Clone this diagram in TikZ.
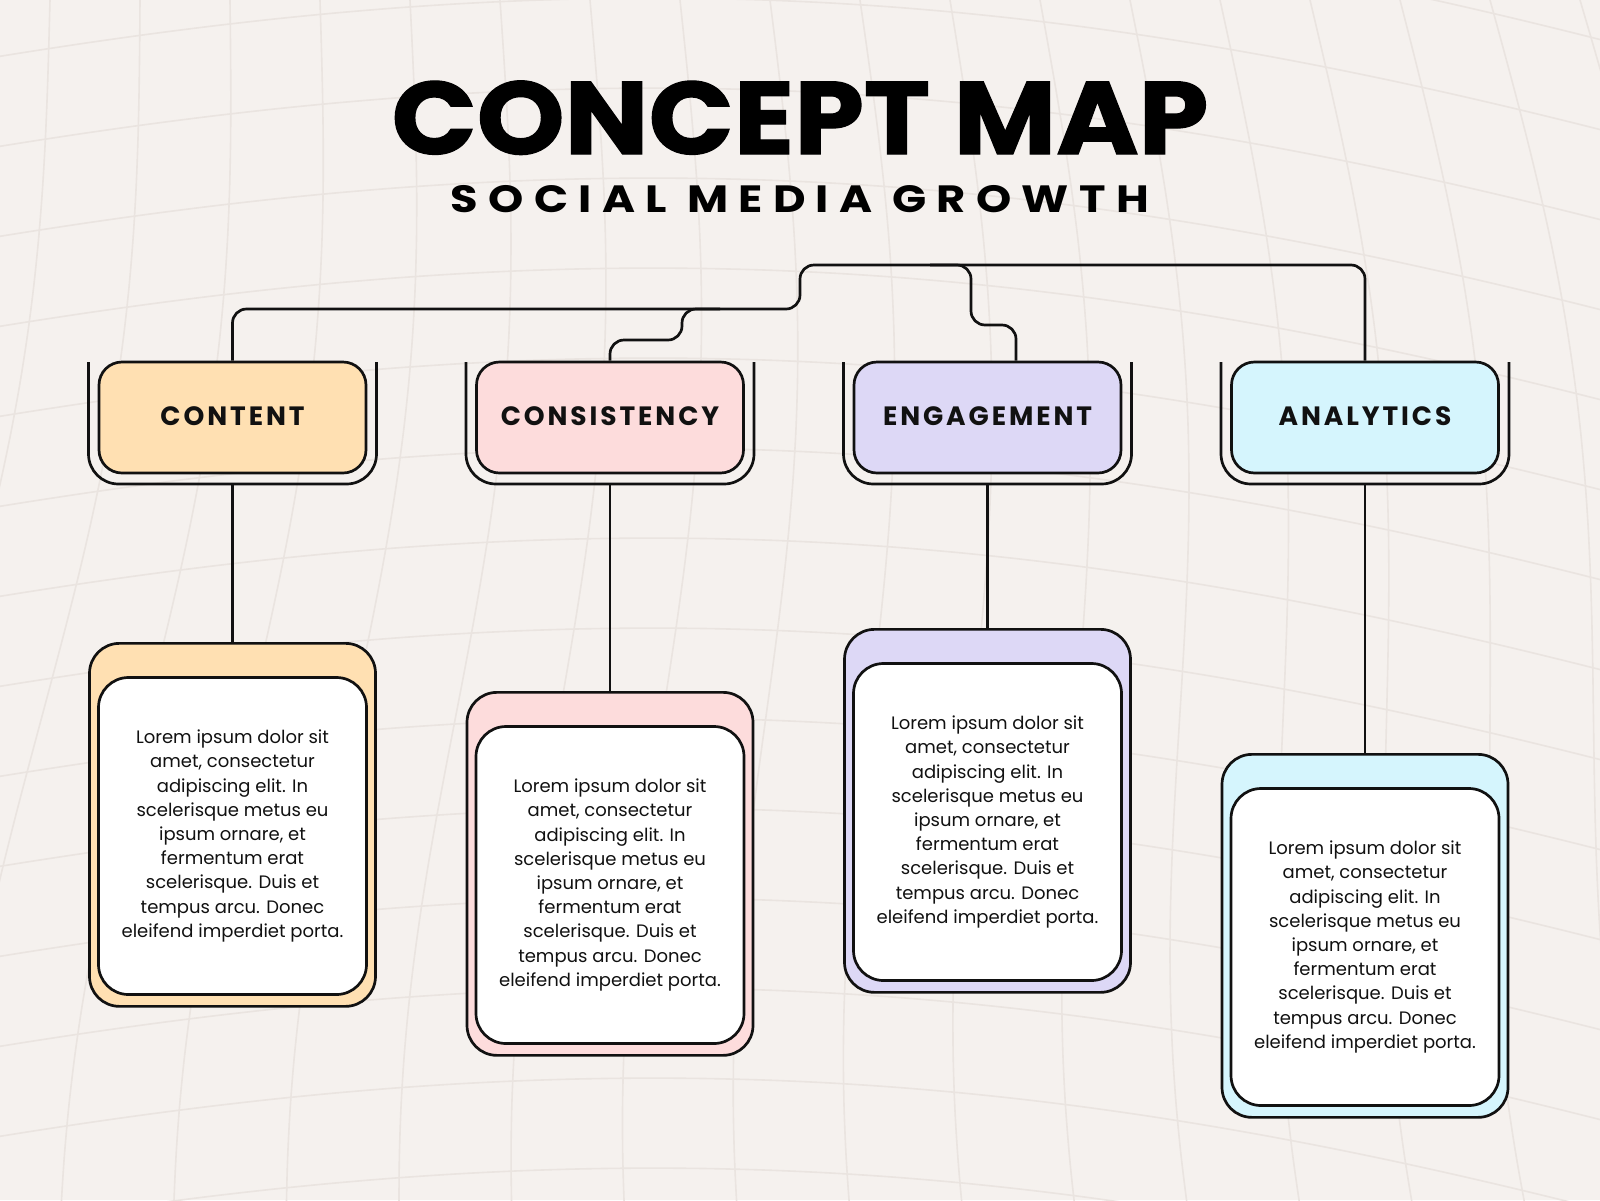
\documentclass[tikz,border=0pt]{standalone}
\usepackage{fontspec}
\setmainfont{Poppins}
\newfontfamily\lblfont{Poppins}[LetterSpace=11]
\newfontfamily\subfont{Poppins}[LetterSpace=23]
\newfontfamily\titlefont{Poppins}[BoldFeatures={FakeBold=1.2}]
\definecolor{bgc}{HTML}{F5F1EE}
\definecolor{gridc}{HTML}{EAE4E0}
\definecolor{inkc}{HTML}{111111}
\definecolor{cA}{HTML}{FFE0B2}
\definecolor{cB}{HTML}{FDDCDC}
\definecolor{cC}{HTML}{DDD8F6}
\definecolor{cD}{HTML}{D5F5FD}
\tikzset{
  gridline/.style={draw=gridc, line width=1.6pt},
  conn/.style={draw=inkc, line width=2.7pt, rounded corners=14pt},
  headbox/.style={draw=inkc, line width=2.7pt, rectangle, rounded corners=23pt,
    minimum width=267pt, minimum height=111pt, inner sep=0pt},
  outerbox/.style={draw=inkc, line width=2.7pt, rectangle, rounded corners=30pt,
    minimum width=286pt, minimum height=363pt, inner sep=0pt},
  innerbox/.style={draw=inkc, fill=white, line width=2.7pt, rectangle, rounded corners=30pt,
    minimum width=268pt, minimum height=317pt, inner sep=0pt},
  bodytext/.style={font=\fontsize{18}{24.2}\selectfont, align=center, text=inkc},
  labeltext/.style={font=\fontsize{26.5}{30}\lblfont\bfseries, text=inkc, anchor=base}
}
\begin{document}
\begin{tikzpicture}[x=1pt,y=-1pt]
\useasboundingbox (0,0) rectangle (1600,1200);
\fill[bgc] (0,0) rectangle (1600,1200);
\begin{scope}
\clip (0,0) rectangle (1600,1200);
\foreach \u in {-400,-310,...,2000} {
  \draw[gridline] plot[domain=-100:1300, samples=30, smooth, variable=\v]
    ({\u + 0.25*(\u-800)*(\v/1200) + 30*sin(\v*0.25)}, {\v});
}
\foreach \w in {-100,-10,...,1400} {
  \draw[gridline] plot[domain=-100:1700, samples=30, smooth, variable=\x]
    ({\x}, {\w - 90*cos((\x-800)*0.09) + 0.00004*(\x-300)*(\x-300)});
}
\end{scope}

% title
\node[anchor=base, font=\fontsize{103}{110}\titlefont\bfseries, text=black] (title) at (800,154) {\scalebox{1.085}[1]{CONCEPT MAP}};
\node[anchor=base, font=\fontsize{38}{44}\subfont\bfseries, text=black] (subtitle) at (800,212) {\scalebox{1.18}[1]{SOCIAL MEDIA GROWTH}};

% columns
\foreach \i/\cx/\col/\lab/\ty in {
  1/232.5/cA/CONTENT/642,
  2/610/cB/CONSISTENCY/691,
  3/987.5/cC/ENGAGEMENT/628,
  4/1365/cD/ANALYTICS/753} {
  % header
  \draw[draw=inkc, line width=2.7pt, rounded corners=30pt]
    (\cx-144,362) -- (\cx-144,484) -- (\cx+144,484) -- (\cx+144,362);
  \node[headbox, fill=\col] (h\i) at (\cx,417.5) {};
  \node[labeltext] (l\i) at (\cx,425.5) {\lab};
  \coordinate (u\i) at (\cx,484);
  % detail
  \node[outerbox, fill=\col, anchor=north] (d\i) at (\cx,\ty) {};
  \node[innerbox, bodytext] (t\i) at (\cx,\ty+194) {Lorem ipsum dolor sit\\amet, consectetur\\adipiscing elit. In\\scelerisque metus eu\\ipsum ornare, et\\fermentum erat\\scelerisque. Duis et\\tempus arcu. Donec\\eleifend imperdiet porta.};
  \draw[draw=inkc, line width=2.7pt] (u\i) -- (d\i.north);
}
% top connectors
\coordinate (k1) at (232.5,309);
\coordinate (k2) at (800,309);
\coordinate (k3) at (800,265);
\coordinate (k4) at (1365,265);
\draw[conn] (h1.north) -- (k1) -- (k2) -- (k3) -- (k4) -- (h4.north);
\coordinate (m1) at (610,340);
\coordinate (m2) at (682,340);
\coordinate (m3) at (682,309);
\coordinate (m4) at (720,309);
\draw[conn] (h2.north) -- (m1) -- (m2) -- (m3) -- (m4);
\coordinate (e1) at (1016,325);
\coordinate (e2) at (971,325);
\coordinate (e3) at (971,265);
\coordinate (e4) at (930,265);
\draw[conn] ([xshift=28.5pt]h3.north) -- (e1) -- (e2) -- (e3) -- (e4);
\end{tikzpicture}
\end{document}
